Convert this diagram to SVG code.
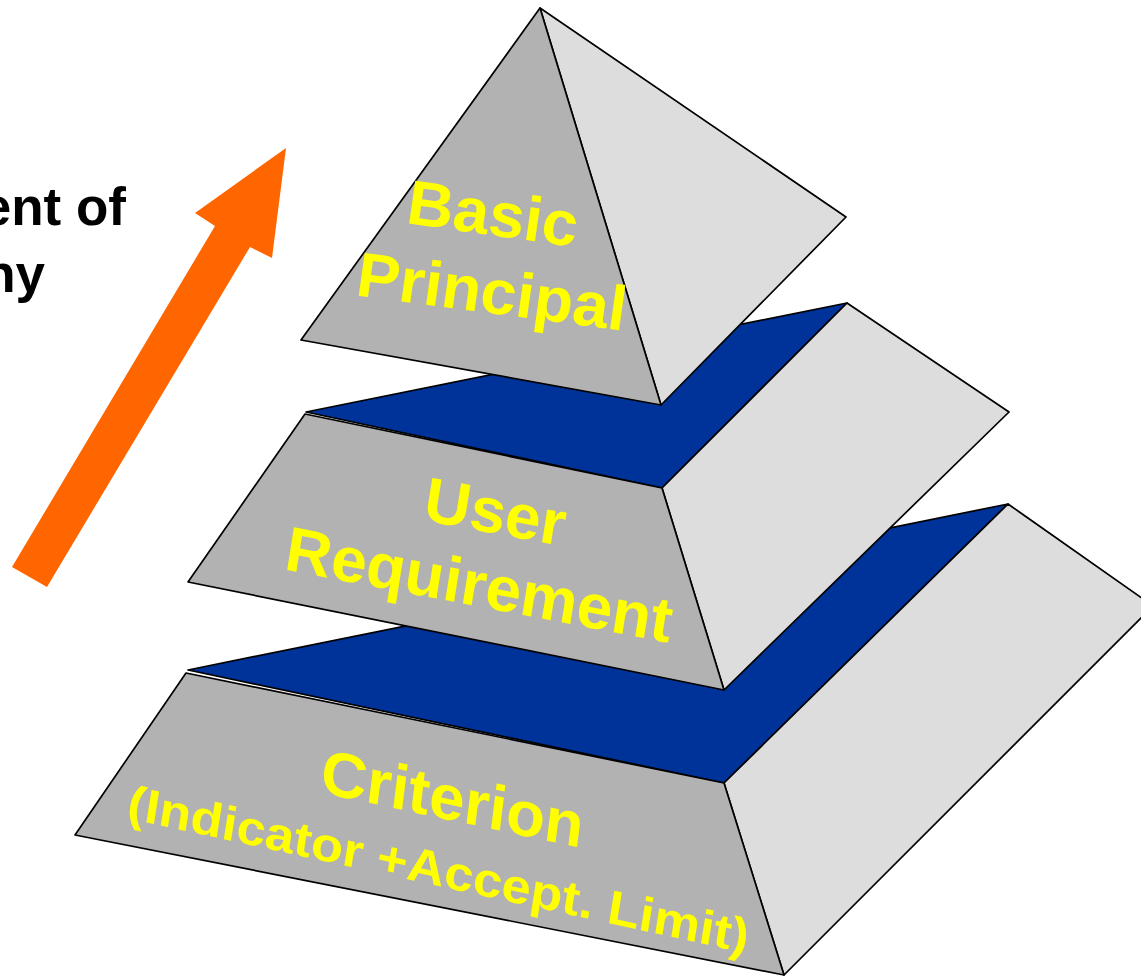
<svg xmlns="http://www.w3.org/2000/svg" width="1141" height="977" viewBox="0 0 1141 977">
  <style>
    .front { fill: #B2B2B2; stroke: #000; stroke-width: 1.7; stroke-linejoin: round; }
    .side  { fill: #DDDDDD; stroke: #000; stroke-width: 1.7; stroke-linejoin: round; }
    .top   { fill: #003399; stroke: #000; stroke-width: 1.7; stroke-linejoin: round; }
    .label { font-family: "Liberation Sans", Arial, sans-serif; font-weight: bold; fill: #FFFF00; text-anchor: middle; }
    .big   { font-size: 63px; }
    .small { font-size: 48px; }
    .caption { font-family: "Liberation Sans", Arial, sans-serif; font-weight: bold; font-size: 53px; fill: #000; text-anchor: end; }
  </style>

  <rect width="1141" height="977" fill="#FFFFFF"/>

  <!-- caption, running off the left edge -->
  <g id="caption">
    <text class="caption" x="126" y="225">ent of</text>
    <text class="caption" x="45" y="292">ny</text>
  </g>

  <!-- upward block arrow -->
  <g id="connectors">
    <polygon id="progress-arrow" fill="#FF6600"
      points="12,567 215,226 195,213 286,148 272,258 250,247 47,587"/>
  </g>

  <!-- bottom tier -->
  <g id="tier-criterion">
    <polygon class="top" points="188,670 1008,504 724,783"/>
    <polygon class="side" points="724,783 1008,504 1153,606 784,975"/>
    <polygon class="front" points="186,673 724,783 784,975 75,835"/>
    <text class="label big" transform="matrix(0.9977,0.2121,-0.1219,0.9925,450,820)">Criterion</text>
    <text class="label small" transform="matrix(1.0747,0.2343,-0.1564,0.9877,436,885.5)">(Indicator +Accept. Limit)</text>
  </g>

  <!-- middle tier -->
  <g id="tier-user-requirement">
    <polygon class="top" points="306,412 847,303 662,488"/>
    <polygon class="side" points="662,488 847,303 1009,412 724,690"/>
    <polygon class="front" points="305,414 662,488 724,690 188,582"/>
    <text class="label big" transform="matrix(1.0030,0.1858,-0.1564,0.9877,492,533)">User</text>
    <text class="label big" transform="matrix(1.0019,0.1911,-0.1564,0.9877,476,606)">Requirement</text>
  </g>

  <!-- top tier -->
  <g id="tier-basic-principal">
    <polygon class="side" points="540,8 846,217 661,405"/>
    <polygon class="front" points="540,8 301,340 661,405"/>
    <text class="label big" transform="matrix(1.0101,0.1420,-0.1392,0.9903,490,235)">Basic</text>
    <text class="label big" transform="matrix(1.0112,0.1331,-0.1392,0.9903,489,313)">Principal</text>
  </g>
</svg>
